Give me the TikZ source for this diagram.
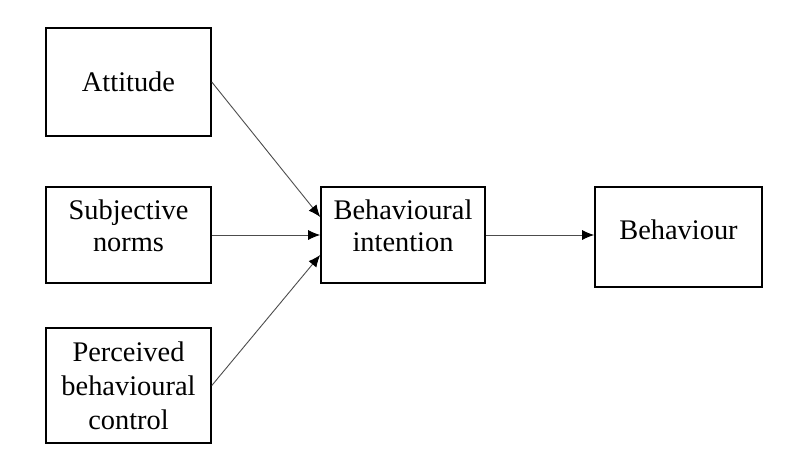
\documentclass[tikz,border=0pt]{standalone}
\usepackage{fontspec}
\setmainfont{Liberation Serif}
\usetikzlibrary{arrows.meta}
\tikzset{
  factor/.style={draw, line width=1.6pt, align=center, inner sep=0pt,
    font=\fontsize{28.4}{32}\selectfont},
  link/.style={-{Latex[length=12pt,width=10pt,fill=black,color=black]}, line width=0.9pt, color=black!70},
}
\begin{document}
\begin{tikzpicture}[x=1pt,y=-1pt]
\useasboundingbox (0,0) rectangle (798,466);
\node[factor, minimum width=165pt, minimum height=108pt] (att) at (128.5,82) {Attitude};
\node[factor, minimum width=165pt, minimum height=96pt, text depth=19pt] (subj) at (128.5,235) {Subjective\\norms};
\node[factor, minimum width=165pt, minimum height=115pt, font=\fontsize{28.4}{34}\selectfont] (perc) at (128.5,385.5) {Perceived\\behavioural\\control};
\node[factor, minimum width=164pt, minimum height=96pt, text depth=19pt] (intent) at (403,235) {Behavioural\\intention};
\node[factor, minimum width=167pt, minimum height=100pt, text depth=14pt] (beh) at (678.5,237) {Behaviour};
\draw[link] (att.east) -- ([yshift=18pt]intent.west);
\draw[link] (subj.east) -- (intent.west);
\draw[link] (perc.east) -- ([yshift=-20pt]intent.west);
\draw[link] (intent.east) -- (beh.west |- intent.east);
\end{tikzpicture}
\end{document}
